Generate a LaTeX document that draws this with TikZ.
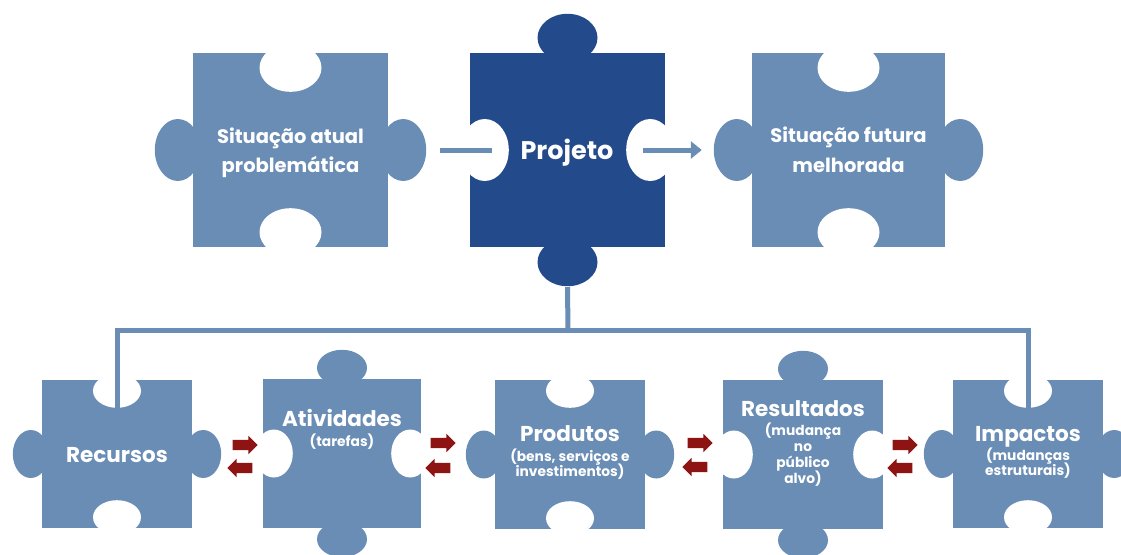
\documentclass[tikz,border=0pt]{standalone}
\usepackage{fontspec}
\setmainfont{Poppins}
\usetikzlibrary{shapes.arrows,arrows.meta,backgrounds}
\definecolor{lb}{HTML}{6A8DB5}
\definecolor{db}{HTML}{234A8A}
\definecolor{ar}{HTML}{8E1313}
\tikzset{
  piece/.style={rectangle, inner sep=0pt, draw=none},
  ttl/.style={text=white, font=\bfseries\fontsize{19.5}{22}\selectfont, anchor=base, inner sep=0pt},
  btl/.style={text=white, font=\bfseries\fontsize{21.5}{24}\selectfont, anchor=base, inner sep=0pt},
  big/.style={text=white, font=\bfseries\fontsize{25.5}{28}\selectfont, anchor=base, inner sep=0pt},
  sub/.style={text=white, font=\bfseries\fontsize{13.8}{16}\selectfont, anchor=base, inner sep=0pt},
  conn/.style={draw=lb, line width=5pt},
  rarr/.style={single arrow, fill=ar, minimum height=25pt, inner xsep=0pt, inner ysep=5pt,
    single arrow head extend=4pt},
  larr/.style={rarr, shape border rotate=180},
}
\begin{document}
\begin{tikzpicture}[x=1pt,y=-1pt]
\useasboundingbox (0,0) rectangle (1121,554);
% pieces (named frames)
\node[piece, minimum width=195pt, minimum height=194pt] (sa) at (290.5,150) {};
\node[piece, minimum width=195pt, minimum height=194pt] (pj) at (567.5,150) {};
\node[piece, minimum width=193pt, minimum height=194pt] (ps) at (848.5,150) {};
\node[piece, minimum width=150pt, minimum height=148pt] (rec) at (117,454) {};
\node[piece, minimum width=158pt, minimum height=149pt] (ati) at (342,453.5) {};
\node[piece, minimum width=150pt, minimum height=149pt] (pro) at (570,454.5) {};
\node[piece, minimum width=160pt, minimum height=149pt] (res) at (803,454.5) {};
\node[piece, minimum width=150pt, minimum height=148pt] (imp) at (1028,454) {};
\begin{scope}[on background layer]
  % top left
  \fill[lb] (sa.south west) rectangle (sa.north east);
  \fill[lb] ([xshift=-15pt]sa.west) ellipse [x radius=23pt, y radius=31pt];
  \fill[lb] ([xshift=15pt]sa.east) ellipse [x radius=23pt, y radius=31pt];
  \fill[white] ([yshift=-15pt]sa.north) ellipse [x radius=31pt, y radius=24pt];
  \fill[white] ([yshift=15pt]sa.south) ellipse [x radius=31pt, y radius=24pt];
  % projeto
  \fill[db] (pj.south west) rectangle (pj.north east);
  \fill[db] ([yshift=15pt]pj.north) ellipse [x radius=30pt, y radius=24pt];
  \fill[db] ([yshift=-15pt]pj.south) ellipse [x radius=30pt, y radius=24pt];
  \fill[white] ([xshift=15pt]pj.west) ellipse [x radius=24pt, y radius=31pt];
  \fill[white] ([xshift=-15pt]pj.east) ellipse [x radius=24pt, y radius=31pt];
  % top right
  \fill[lb] (ps.south west) rectangle (ps.north east);
  \fill[lb] ([xshift=-15pt]ps.west) ellipse [x radius=23pt, y radius=31pt];
  \fill[lb] ([xshift=15pt]ps.east) ellipse [x radius=23pt, y radius=31pt];
  \fill[white] ([yshift=-15pt]ps.north) ellipse [x radius=31pt, y radius=24pt];
  \fill[white] ([yshift=15pt]ps.south) ellipse [x radius=31pt, y radius=24pt];
  % bottom row: tabs on sides
  \foreach \p in {rec,pro,imp}{
    \fill[lb] (\p.south west) rectangle (\p.north east);
    \fill[lb] ([xshift=-11pt]\p.west) ellipse [x radius=18pt, y radius=24pt];
    \fill[lb] ([xshift=11pt]\p.east) ellipse [x radius=18pt, y radius=24pt];
    \fill[white] ([yshift=-11pt]\p.north) ellipse [x radius=24pt, y radius=17pt];
    \fill[white] ([yshift=11pt]\p.south) ellipse [x radius=24pt, y radius=17pt];
  }
  \foreach \p in {ati,res}{
    \fill[lb] (\p.south west) rectangle (\p.north east);
    \fill[lb] ([yshift=11pt]\p.north) ellipse [x radius=25pt, y radius=18pt];
    \fill[lb] ([yshift=-11pt]\p.south) ellipse [x radius=25pt, y radius=18pt];
    \fill[white] ([xshift=11pt]\p.west) ellipse [x radius=19pt, y radius=24pt];
    \fill[white] ([xshift=-11pt]\p.east) ellipse [x radius=19pt, y radius=24pt];
  }
\end{scope}
% texts
\node[ttl] (sa1) at (290.5,143) {Situação atual};
\node[ttl] (sa2) at (290.5,172) {problemática};
\node[big] (pj1) at (567,159) {Projeto};
\node[ttl] (ps1) at (848.5,142) {Situação futura};
\node[ttl] (ps2) at (848.5,172) {melhorada};
\node[btl] (rec1) at (117,462) {Recursos};
\node[btl] (ati1) at (342,426) {Atividades};
\node[sub] (ati2) at (342,446) {(tarefas)};
\node[btl] (pro1) at (570,441) {Produtos};
\node[sub] (pro2) at (570,461) {(bens, serviços e};
\node[sub] (pro3) at (570,476) {investimentos)};
\node[btl] (res1) at (803,416) {Resultados};
\node[sub] (res2) at (803,435) {(mudança};
\node[sub] (res3) at (803,451) {no};
\node[sub] (res4) at (803,467) {público};
\node[sub] (res5) at (803,483) {alvo)};
\node[btl] (imp1) at (1028,441) {Impactos};
\node[sub] (imp2) at (1028,460) {(mudanças};
\node[sub] (imp3) at (1028,475) {estruturais)};
% connectors
\draw[conn] ([xshift=52pt]sa.east) -- ([xshift=22pt]pj.west);
\draw[conn, -{Triangle[length=11pt,width=17pt]}] ([xshift=-22pt]pj.east) -- ([xshift=-50pt]ps.west);
\coordinate (bus) at (568,330);
\draw[conn] ([yshift=-40pt]pj.south) -- (bus);
\draw[conn] ([yshift=-28pt]rec.north) -- (rec.north |- bus) -- (imp.north |- bus) -- ([yshift=-30pt]imp.north);
% red double arrows
\node[rarr] (a1r) at (242.5,445) {};
\node[larr] (a1l) at (242.5,468) {};
\node[rarr] (a2r) at (440.5,443) {};
\node[larr] (a2l) at (440.5,468) {};
\node[rarr] (a3r) at (697.5,443) {};
\node[larr] (a3l) at (697.5,467) {};
\node[rarr] (a4r) at (902.5,445) {};
\node[larr] (a4l) at (902.5,468) {};
\end{tikzpicture}
\end{document}
